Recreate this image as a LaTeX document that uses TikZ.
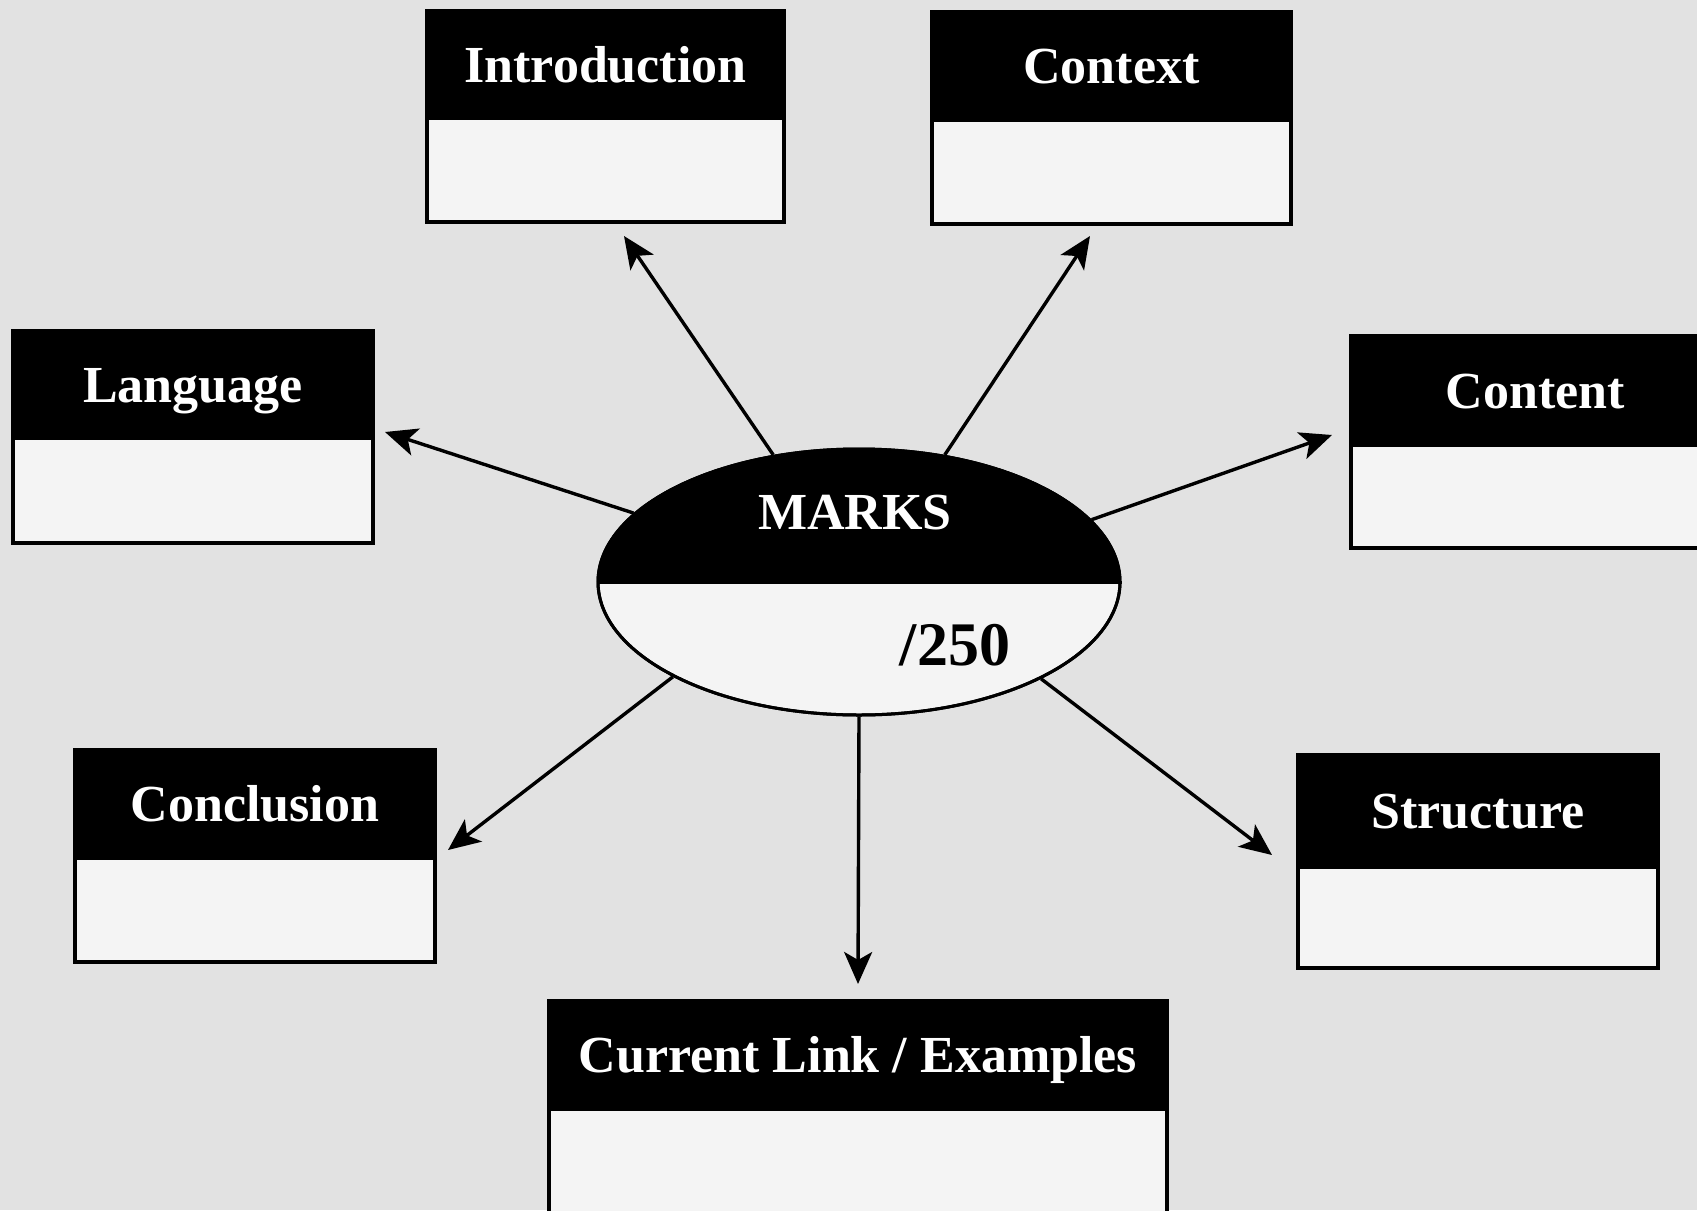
\documentclass[tikz,border=0pt]{standalone}
\usepackage{fontspec}
\setmainfont{Liberation Serif}
\usetikzlibrary{arrows.meta,shapes.geometric}
\definecolor{bggray}{RGB}{226,226,226}
\definecolor{paper}{RGB}{244,244,244}
\begin{document}
\begin{tikzpicture}[x=0.5pt,y=-0.5pt,
  hdr/.style={rectangle, fill=black, draw=black, line width=2pt, text=white,
    font=\bfseries\fontsize{26pt}{30pt}\selectfont, inner sep=0pt,
    text height=22pt, text depth=4.5pt},
  bodybox/.style={rectangle, fill=paper, draw=black, line width=2pt, inner sep=0pt},
  link/.style={line width=1.7pt, -{Stealth[length=16pt,width=14pt,inset=4pt]}}]
\useasboundingbox (0,0) rectangle (1697,1210);
\clip (0,0) rectangle (1697,1210);
\fill[bggray] (0,0) rectangle (1697,1210);

% Introduction
\node[bodybox, minimum width=178.5pt, minimum height=52pt] (introB) at (605.5,170) {};
\node[hdr, minimum width=178.5pt, minimum height=53.5pt] (introH) at (605.5,64.5) {Introduction};
% Context
\node[bodybox, minimum width=179.5pt, minimum height=52pt] (contextB) at (1111.5,172) {};
\node[hdr, minimum width=179.5pt, minimum height=54pt] (contextH) at (1111.5,66) {Context};
% Language
\node[bodybox, minimum width=180pt, minimum height=52.5pt] (langB) at (193,490.5) {};
\node[hdr, minimum width=180pt, minimum height=53.5pt] (langH) at (193,384.5) {Language};
% Content
\node[bodybox, minimum width=184.5pt, minimum height=51.5pt] (contentB) at (1535.5,496.5) {};
\node[hdr, minimum width=184.5pt, minimum height=54.5pt] (contentH) at (1535.5,390.5) {Content};
% Conclusion
\node[bodybox, minimum width=180pt, minimum height=52pt] (conclB) at (255,910) {};
\node[hdr, minimum width=180pt, minimum height=54pt] (conclH) at (255,804) {Conclusion};
% Structure
\node[bodybox, minimum width=180pt, minimum height=50.5pt] (structB) at (1478,917.5) {};
\node[hdr, minimum width=180pt, minimum height=56pt] (structH) at (1478,811) {Structure};
% Current Link / Examples
\node[bodybox, minimum width=309pt, minimum height=65.5pt] (currB) at (858,1174.5) {};
\node[hdr, minimum width=309pt, minimum height=54pt] (currH) at (858,1055) {Current Link / Examples};

% Central ellipse
\node[ellipse, draw=black, line width=1.5pt, fill=paper, minimum width=261pt,
      minimum height=133pt, inner sep=0pt] (marks) at (859,582) {};
\fill[black] (859,582) ++(-130.5pt,0pt) arc[start angle=180,end angle=0,x radius=130.5pt,y radius=66.5pt] -- cycle;
\draw[line width=1.5pt] (859,582) ellipse [x radius=130.5pt, y radius=66.5pt];
\draw[line width=1.5pt] (marks.west) -- (marks.east);
\node[text=white, font=\bfseries\fontsize{26pt}{30pt}\selectfont, inner sep=0pt,
      text height=22pt, text depth=4.5pt] (markslabel) at (855,512) {MARKS};
\node[text=black, font=\bfseries\fontsize{31pt}{34pt}\selectfont, inner sep=0pt] (score) at (955,645) {/250};

% Arrow tips
\coordinate (tIntro) at (624,236);
\coordinate (tContext) at (1090,236);
\coordinate (tLang) at (385,432);
\coordinate (tContent) at (1332,435);
\coordinate (tConcl) at (448,850);
\coordinate (tStruct) at (1272,855);
\coordinate (tCurr) at (858,984);

\draw[link] (marks.124.4) -- (tIntro);
\draw[link] (marks.56.8) -- (tContext);
\draw[link] (marks.163.6) -- (tLang);
\draw[link] (marks.15.65) -- (tContent);
\draw[link] (marks.207) -- (tConcl);
\draw[link] (marks.332.1) -- (tStruct);
\draw[link] (marks.270) -- (tCurr);
\end{tikzpicture}
\end{document}
